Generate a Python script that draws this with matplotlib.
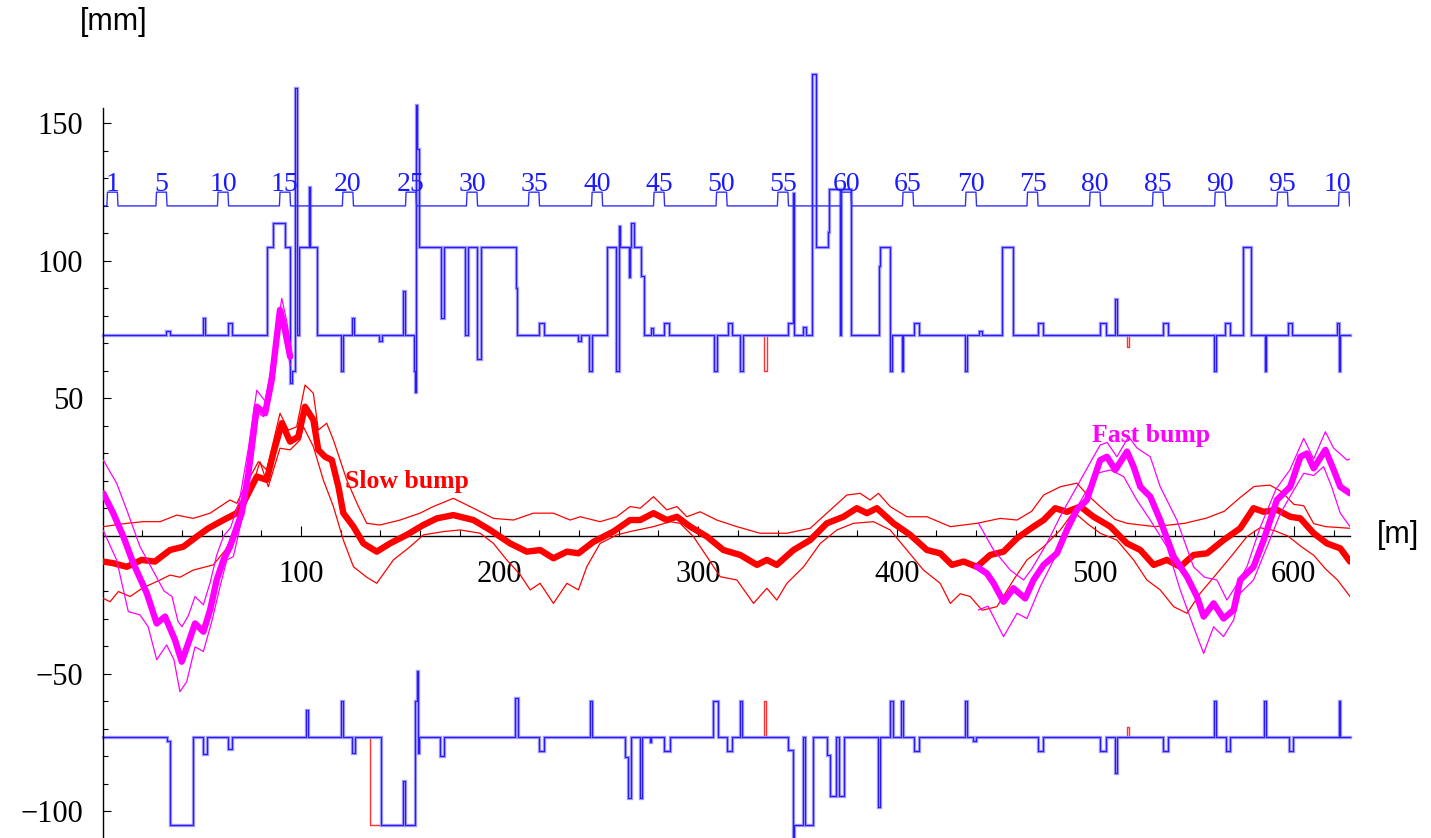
import matplotlib
matplotlib.use("Agg")
import matplotlib.pyplot as plt
from matplotlib.ticker import FixedLocator, MultipleLocator, FuncFormatter

# ---------------------------------------------------------------- data
circumference = 628.3          # [m]

# straight-section markers (cell number, position [m])
cell_ids = [1, 5, 10, 15, 20, 25, 30, 35, 40, 45, 50, 55, 60, 65, 70, 75, 80, 85, 90, 95, 100]
cell_s = [5.0, 29.7, 60.7, 91.9, 123.6, 155.4, 186.1, 217.3, 249.1, 280.3, 311.8,
          342.7, 374.5, 405.7, 437.4, 468.4, 499.9, 531.6, 562.9, 594.3, 625.3]
cell_level = 120.0
cell_mark = 125.0

# vacuum-chamber aperture: nominal half aperture and local changes (start, end, value) [m, m, mm]
aperture_nominal = 73.0
upper_aperture = [
    (31.8, 34.0, 74.5), (50.8, 51.8, 79.2), (63.1, 65.4, 77.3),
    (83.0, 85.7, 105.0), (85.7, 91.9, 113.7), (91.9, 94.6, 105.0), (94.6, 95.6, 55.6),
    (95.6, 96.8, 60.0), (96.8, 97.8, 162.8), (99.0, 104.0, 105.0), (104.0, 104.6, 126.7),
    (104.6, 108.2, 105.0), (120.0, 121.0, 60.0), (125.8, 126.9, 79.2), (139.5, 140.6, 71.0),
    (151.5, 152.5, 89.0), (157.0, 157.6, 60.0), (157.6, 158.0, 52.5), (158.0, 158.5, 156.7),
    (158.5, 159.2, 140.7), (159.2, 170.4, 105.0), (170.4, 172.0, 79.2), (172.0, 182.6, 105.0),
    (184.3, 188.5, 105.0), (188.5, 190.7, 64.4), (190.7, 208.2, 105.0), (208.2, 209.0, 90.0),
    (219.7, 222.6, 77.3), (239.7, 240.9, 71.0), (245.2, 246.6, 60.0), (254.0, 258.5, 105.0),
    (258.5, 260.2, 60.0), (260.2, 260.8, 112.8), (260.8, 265.0, 105.0), (265.0, 265.7, 94.3),
    (265.7, 266.1, 105.0), (266.1, 267.9, 113.7), (267.9, 271.1, 105.0), (271.1, 272.6, 94.5),
    (276.5, 277.5, 75.5), (283.0, 285.5, 77.3), (308.0, 309.4, 60.0), (314.8, 317.0, 77.3),
    (321.3, 322.7, 60.0), (345.5, 348.0, 77.3), (348.0, 348.3, 124.6), (353.0, 354.2, 76.0),
    (357.3, 359.3, 167.9), (359.3, 365.3, 105.0), (365.3, 366.0, 110.4), (366.0, 371.2, 126.0),
    (372.0, 377.0, 126.0), (390.9, 391.7, 98.0), (391.7, 396.7, 105.0), (396.7, 397.6, 60.0),
    (402.6, 403.4, 60.0), (408.5, 411.0, 77.3), (434.2, 435.4, 60.0), (441.5, 443.0, 74.5),
    (453.0, 458.8, 105.0), (471.0, 473.5, 77.3), (502.5, 505.2, 77.3), (510.1, 511.2, 86.0),
    (533.9, 536.6, 77.3), (559.6, 560.8, 60.0), (565.5, 568.0, 77.3), (574.2, 578.4, 105.0),
    (585.3, 585.8, 60.0), (596.9, 599.1, 77.3), (622.0, 622.7, 77.3), (622.7, 623.4, 60.0),
]
lower_aperture = [
    (32.3, 34.0, -74.5), (34.0, 45.4, -105.1), (50.8, 52.5, -79.3), (63.1, 65.4, -77.3),
    (102.4, 103.4, -63.3), (120.0, 121.0, -60.0), (125.7, 127.0, -79.0),
    (140.3, 151.5, -105.1), (151.5, 152.5, -89.0), (152.5, 157.4, -105.1),
    (157.4, 158.4, -60.0), (158.4, 158.9, -49.0), (158.9, 159.6, -79.0),
    (170.0, 172.2, -80.0), (208.0, 209.3, -58.8), (219.6, 222.6, -78.0),
    (245.3, 246.4, -60.0), (263.4, 264.9, -80.5), (264.9, 266.1, -95.1), (270.8, 271.9, -95.1),
    (275.5, 276.5, -75.0), (283.0, 285.9, -78.0), (307.7, 309.9, -60.0), (314.5, 317.0, -78.0),
    (321.2, 322.3, -60.0), (345.2, 348.0, -77.8), (348.0, 348.3, -112.0), (348.3, 353.0, -105.1),
    (353.9, 357.8, -105.1), (364.8, 366.2, -79.7), (366.2, 369.4, -94.5),
    (371.0, 373.3, -94.5), (390.5, 391.7, -98.5), (396.7, 397.9, -60.0), (402.3, 403.4, -60.0),
    (408.5, 411.3, -78.0), (434.2, 435.4, -60.0), (438.5, 440.0, -74.5), (471.0, 473.5, -78.0),
    (502.5, 505.4, -78.0), (510.0, 511.0, -86.3), (534.0, 536.4, -78.0), (559.6, 560.8, -60.0),
    (565.8, 567.7, -78.0), (585.2, 585.8, -60.0), (597.4, 599.4, -78.0), (622.6, 623.4, -60.0),
]
# second aperture model, differing only locally
upper_aperture_alt = [(333.4, 334.6, 60.0), (516.0, 516.8, 68.8)]
lower_aperture_alt = [(134.8, 140.3, -105.1), (333.4, 334.3, -60.0), (516.0, 516.8, -69.3)]

# slow extraction bump: closed orbit and beam envelope [m, mm]
slow_orbit = [
    (0.4, -9.3), (5.4, -9.9), (12.2, -11.2), (19.7, -8.7), (26.4, -9.3), (34.0, -5.1),
    (40.7, -3.9), (47.5, -0.2), (53.3, 2.8), (60.9, 5.8), (67.6, 8.3), (72.6, 14.3),
    (77.7, 21.6), (82.7, 20.4), (86.0, 30.0), (90.3, 41.0), (94.5, 34.3), (98.6, 36.1),
    (102.0, 47.0), (106.2, 42.2), (108.7, 31.3), (112.1, 28.8), (115.5, 27.6), (118.8, 17.9),
    (121.3, 8.3), (126.4, 3.4), (131.4, -2.7), (138.1, -5.7), (144.8, -2.7), (153.2, 0.4),
    (161.6, 4.0), (168.4, 6.4), (176.7, 7.6), (186.8, 5.8), (195.2, 2.2), (205.3, -2.7),
    (213.7, -5.7), (220.4, -5.1), (227.1, -8.1), (233.9, -5.7), (239.7, -6.3), (247.3, -2.1),
    (257.3, 1.6), (265.7, 5.8), (270.8, 5.8), (277.5, 8.3), (284.2, 5.8), (289.3, 7.0),
    (296.0, 3.4), (304.4, -0.2), (312.7, -5.1), (321.2, -6.9), (329.6, -10.5), (334.6, -8.7),
    (339.6, -10.5), (348.0, -5.1), (356.4, -1.5), (364.8, 4.6), (373.2, 7.0), (379.9, 10.1),
    (385.0, 8.3), (390.0, 10.1), (398.4, 4.6), (406.8, 0.4), (415.2, -5.1), (421.9, -6.3),
    (427.8, -10.5), (433.7, -9.3), (440.4, -11.2), (447.1, -6.9), (453.8, -5.7), (460.6, -0.8),
    (468.9, 3.4), (474.0, 5.8), (479.8, 10.1), (485.7, 8.8), (492.5, 10.7), (499.1, 7.0),
    (507.6, 3.4), (516.0, -2.7), (522.7, -5.1), (529.4, -10.5), (536.1, -8.7), (542.8, -11.2),
    (549.5, -6.9), (556.3, -6.3), (564.6, -1.5), (573.0, 2.8), (579.7, 10.1), (584.8, 8.8),
    (591.5, 9.5), (598.2, 7.0), (603.3, 6.4), (610.0, 1.0), (616.7, -2.7), (623.4, -4.5),
    (628.3, -9.3),
]
slow_upper = [
    (0.4, 3.4), (12.2, 4.6), (20.6, 5.2), (29.0, 5.2), (37.4, 7.6), (45.7, 6.4), (54.2, 8.3),
    (64.2, 13.1), (67.6, 11.9), (73.5, 20.4), (78.5, 27.0), (82.7, 24.0), (89.4, 44.6),
    (93.6, 38.5), (97.8, 39.7), (102.0, 54.9), (106.2, 51.9), (108.7, 38.5), (112.9, 41.0),
    (116.3, 34.9), (123.0, 20.4), (128.9, 10.7), (133.1, 4.6), (139.8, 4.0), (149.9, 5.8),
    (159.9, 8.3), (166.6, 10.7), (176.7, 13.7), (188.5, 9.5), (196.9, 6.4), (207.0, 5.8),
    (217.0, 8.3), (227.1, 8.3), (235.5, 5.8), (240.6, 7.0), (250.6, 5.2), (259.0, 7.0),
    (265.7, 10.7), (270.8, 10.1), (277.5, 14.3), (284.2, 9.5), (289.3, 10.7), (294.3, 7.0),
    (301.0, 8.8), (309.4, 5.8), (319.5, 3.4), (331.2, 1.0), (344.7, 1.0), (356.4, 2.8),
    (364.8, 8.3), (374.9, 14.9), (381.6, 15.5), (386.6, 13.1), (390.8, 15.5), (396.7, 10.7),
    (405.1, 7.0), (415.2, 7.0), (427.0, 3.4), (440.4, 4.6), (452.1, 6.4), (460.6, 5.8),
    (468.0, 9.0), (474.0, 14.9), (482.4, 17.9), (490.7, 19.2), (496.0, 15.0), (502.5, 10.7),
    (510.0, 6.0), (516.0, 4.6), (530.0, 3.4), (545.0, 4.6), (556.0, 6.5), (565.0, 9.0),
    (573.0, 14.0), (580.0, 18.0), (588.0, 18.5), (594.0, 16.0), (600.0, 11.5), (605.0, 11.0),
    (610.0, 4.5), (616.0, 3.4), (628.3, 2.8),
]
slow_lower = [
    (0.4, -22.7), (3.8, -23.9), (8.0, -20.2), (13.9, -22.0), (20.0, -19.0), (29.0, -16.0),
    (34.0, -14.2), (39.0, -15.0), (45.7, -12.4), (55.8, -10.5), (62.0, -5.0), (69.3, 5.8),
    (74.3, 15.5), (79.3, 27.0), (83.5, 17.9), (89.4, 31.9), (94.5, 31.3), (99.5, 34.9),
    (101.2, 39.7), (106.2, 32.5), (111.2, 20.4), (116.3, 10.7), (121.3, -1.5), (126.4, -11.2),
    (133.1, -15.0), (138.1, -17.2), (146.5, -8.7), (154.9, -3.9), (161.6, 0.4), (171.7, 1.6),
    (180.1, 2.2), (190.2, 1.0), (196.9, -2.7), (203.6, -8.7), (210.3, -14.0), (215.4, -19.6),
    (220.4, -17.2), (227.1, -24.5), (233.9, -17.2), (239.7, -19.6), (243.9, -11.2),
    (250.6, -2.7), (259.0, 0.4), (265.7, 1.6), (277.5, 3.4), (285.9, 5.2), (290.9, 4.6),
    (297.6, -0.2), (304.4, -7.5), (311.1, -14.8), (319.5, -16.0), (327.9, -24.5),
    (334.6, -19.0), (339.6, -23.3), (344.7, -17.2), (353.1, -11.2), (361.5, -2.7),
    (369.9, 2.2), (378.2, 4.6), (388.3, 5.2), (396.7, 2.2), (405.1, -5.1), (413.5, -12.4),
    (421.9, -17.2), (427.0, -24.5), (432.0, -21.0), (437.0, -22.0), (443.0, -27.0),
    (450.5, -25.7), (458.8, -16.0), (465.6, -8.7), (474.0, -3.9), (482.4, 2.2), (489.1, 8.8),
    (495.8, 4.6), (502.5, 1.0), (510.9, -1.5), (519.3, -8.7), (526.0, -16.0), (532.7, -19.6),
    (539.5, -25.7), (546.2, -28.1), (552.9, -20.8), (561.3, -13.6), (569.7, -6.3),
    (576.4, -0.2), (583.0, 3.0), (590.0, 2.0), (597.0, 0.0), (604.0, -4.0), (610.0, -7.0),
    (616.0, -12.0), (622.0, -16.0), (628.3, -22.0),
]

# fast extraction bump: two bump regions, orbit and envelope [m, mm]
fast_orbit_a = [
    (0.4, 15.5), (5.4, 8.3), (10.5, -0.2), (15.5, -9.9), (22.3, -20.8), (27.3, -31.8),
    (31.5, -29.3), (36.5, -37.8), (39.9, -45.7), (43.2, -39.0), (46.6, -31.8), (50.8, -34.8),
    (54.2, -26.9), (57.5, -16.0), (60.9, -8.7), (64.2, -3.9), (70.1, 8.3), (73.5, 22.8),
    (77.7, 47.0), (81.9, 44.6), (85.2, 56.7), (89.4, 82.2), (91.9, 74.9), (94.5, 65.2),
]
fast_upper_a = [
    (0.4, 27.6), (7.1, 19.2), (12.2, 9.5), (18.9, -3.9), (25.0, -12.0), (31.0, -20.0),
    (35.0, -22.0), (38.0, -31.0), (40.0, -33.0), (43.2, -29.0), (46.6, -22.0), (50.8, -25.0),
    (54.2, -17.0), (57.5, -7.0), (61.0, 0.0), (64.5, 3.0), (69.0, 13.0), (73.5, 32.0),
    (77.7, 53.0), (81.9, 49.0), (85.2, 62.0), (90.3, 86.4), (92.8, 78.0), (94.5, 70.0),
]
fast_lower_a = [
    (0.4, 2.0), (7.1, -8.7), (13.0, -27.5), (18.9, -28.7), (23.0, -33.0), (27.3, -45.0),
    (32.3, -39.6), (36.0, -45.0), (39.0, -56.6), (42.4, -53.0), (46.6, -40.3), (50.8, -42.0),
    (55.0, -31.2), (59.2, -18.4), (62.6, -8.7), (65.9, -7.5), (70.9, 8.3), (75.2, 26.4),
    (78.5, 44.6), (81.0, 43.4), (85.2, 53.1), (89.4, 79.8), (92.8, 68.8), (94.5, 62.0),
]
fast_orbit_b = [
    (440.4, -11.2), (445.4, -13.6), (448.8, -17.2), (453.8, -23.9), (458.8, -19.0),
    (464.7, -22.7), (468.9, -16.0), (474.0, -10.5), (480.7, -6.3), (485.7, 2.2), (490.7, 9.5),
    (495.8, 13.1), (499.1, 20.4), (502.5, 27.6), (505.9, 28.8), (510.1, 24.0), (516.0, 30.7),
    (519.3, 25.2), (522.7, 17.9), (527.7, 14.3), (532.7, 5.8), (539.5, -7.5), (546.2, -14.8),
    (551.2, -22.0), (554.6, -29.3), (559.6, -24.5), (564.6, -30.0), (569.7, -26.9),
    (573.0, -16.0), (579.7, -11.2), (584.8, -1.5), (591.5, 13.1), (598.2, 17.9), (603.3, 28.8),
    (606.6, 30.0), (610.0, 24.6), (615.9, 31.3), (620.1, 24.0), (623.4, 17.9), (628.3, 15.5),
]
fast_upper_b = [
    (441.2, 4.6), (448.8, -5.1), (457.2, -12.4), (463.9, -16.0), (468.0, -12.0),
    (475.6, -2.7), (483.0, 8.0), (490.7, 17.9), (499.1, 28.8), (502.5, 33.1), (506.0, 34.0),
    (510.9, 28.8), (516.8, 36.1), (521.0, 32.0), (527.7, 28.8), (532.7, 17.9), (541.1, 5.8),
    (549.5, -11.2), (555.0, -15.0), (561.3, -16.0), (566.3, -23.3), (571.0, -18.0),
    (576.4, -11.2), (583.0, 3.0), (591.0, 17.0), (598.0, 24.0), (605.0, 35.5), (610.0, 28.0),
    (615.9, 37.9), (620.0, 32.0), (626.8, 27.6), (628.3, 28.0),
]
fast_lower_b = [
    (441.2, -26.9), (446.0, -25.5), (453.8, -36.6), (460.6, -28.1), (465.6, -30.0),
    (472.3, -18.4), (477.3, -11.2), (483.0, -3.0), (489.1, 8.3), (495.8, 16.7), (500.8, 22.8),
    (507.6, 24.0), (514.3, 21.6), (521.0, 13.0), (527.7, 5.8), (536.1, -3.9), (542.8, -19.6),
    (549.5, -33.0), (554.6, -42.7), (559.6, -33.0), (564.6, -36.6), (569.7, -30.5),
    (573.0, -20.8), (579.7, -16.0), (586.5, -3.9), (593.3, 8.3), (600.0, 16.7), (605.0, 22.8),
    (610.0, 22.0), (615.0, 25.2), (619.0, 18.0), (623.4, 8.3), (628.3, 3.4),
]

y_ticks = [-100, -50, 50, 100, 150]
x_ticks = [100, 200, 300, 400, 500, 600]

# ---------------------------------------------------------------- helpers
def step_profile(base, steps, s_end):
    """Polyline for a piecewise-constant profile around a nominal level."""
    xs, ys = [0.0], [base]
    prev_end = None
    for s0, s1, v in sorted(steps):
        if prev_end is not None and abs(s0 - prev_end) < 1e-9:
            xs += [s0, s1]
            ys += [v, v]
        else:
            if prev_end is not None:
                xs.append(prev_end)
                ys.append(base)
            xs += [s0, s0, s1]
            ys += [base, v, v]
        prev_end = s1
    xs += [prev_end, s_end]
    ys += [base, base]
    return xs, ys


def merged(base_steps, extra):
    """Profile of the alternative aperture: nominal steps with local overrides."""
    out = [st for st in base_steps
           if not any(st[0] < e1 and st[1] > e0 for e0, e1, _ in extra)]
    return out + list(extra)


def xy(points):
    s, v = zip(*points)
    return list(s), list(v)


# ---------------------------------------------------------------- figure
W, H = 1431, 838
fig = plt.figure(figsize=(W / 100, H / 100), dpi=100)
ax = fig.add_axes([102.5 / W, 0.0, (1350 - 102.5) / W, (H - 108) / H])
ax.set_xlim(0, circumference)
ax.set_ylim(-109.8, 155.6)

serif = "Liberation Serif"
sans = "Liberation Sans"
BLUE = "#2a1aff"
BLUE_LIGHT = "#8c8cff"
RED = "#ff0000"
MAGENTA = "#ff00ff"

# cell marker line with the labelled straight sections
half = 2.5
cx, cy = [0.0], [cell_level]
for s in cell_s:
    cx += [s - half - 0.3, s - half, s + half, s + half + 0.3]
    cy += [cell_level, cell_mark, cell_mark, cell_level]
cx.append(circumference)
cy.append(cell_level)
ax.plot(cx, cy, color="#3030ff", lw=1.0, zorder=3)
for n, s in zip(cell_ids, cell_s):
    ax.text(s, 125.6, str(n), ha="center", va="baseline", fontsize=20,
            family=serif, color="#1a1aff", clip_on=True, zorder=4)

# apertures: alternative model underneath, main model as light band + thin line
for base, steps, alt in [(aperture_nominal, upper_aperture, upper_aperture_alt),
                         (-aperture_nominal, lower_aperture, lower_aperture_alt)]:
    ax.plot(*step_profile(base, merged(steps, alt), circumference),
            color=RED, lw=1.0, alpha=0.8, zorder=2, clip_on=False)
    px, py = step_profile(base, steps, circumference)
    ax.plot(px, py, color=BLUE_LIGHT, lw=2.4, alpha=0.85, zorder=2.5,
            solid_joinstyle="miter", clip_on=False)
    ax.plot(px, py, color=BLUE, lw=0.8, zorder=2.6, clip_on=False)

# slow bump
for pts in (slow_upper, slow_lower):
    ax.plot(*xy(pts), color=RED, lw=0.9, zorder=5)
ax.plot(*xy(slow_orbit), color=RED, lw=4.6, zorder=6,
        solid_capstyle="round", solid_joinstyle="round")

# fast bump
for pts in (fast_upper_a, fast_lower_a, fast_upper_b, fast_lower_b):
    ax.plot(*xy(pts), color=MAGENTA, lw=0.9, zorder=7)
for pts in (fast_orbit_a, fast_orbit_b):
    ax.plot(*xy(pts), color=MAGENTA, lw=4.6, zorder=8,
            solid_capstyle="round", solid_joinstyle="round")

ax.text(122.2, 17.5, "Slow bump", color=RED, fontsize=18.5, family=serif,
        fontweight="bold", ha="left", va="baseline", zorder=9)
ax.text(498.3, 34.3, "Fast bump", color=MAGENTA, fontsize=18.5, family=serif,
        fontweight="bold", ha="left", va="baseline", zorder=9)

# axes through the origin
for side in ("top", "right"):
    ax.spines[side].set_visible(False)
ax.spines["left"].set_position(("data", 0))
ax.spines["bottom"].set_position(("data", 0))
for side in ("left", "bottom"):
    ax.spines[side].set_linewidth(1.0)
    ax.spines[side].set_zorder(4)

fmt = FuncFormatter(lambda v, _: f"{int(round(v))}".replace("-", "\u2212"))
ax.xaxis.set_major_locator(FixedLocator(x_ticks))
ax.xaxis.set_minor_locator(MultipleLocator(20))
ax.yaxis.set_major_locator(FixedLocator(y_ticks))
ax.yaxis.set_minor_locator(MultipleLocator(10))
ax.xaxis.set_major_formatter(fmt)
ax.yaxis.set_major_formatter(fmt)
ax.tick_params(axis="x", which="major", direction="in", length=7, width=0.8, pad=17,
               labelsize=22)
ax.tick_params(axis="x", which="minor", direction="in", length=4, width=0.8)
ax.tick_params(axis="y", which="major", direction="in", length=6, width=0.8, pad=14,
               labelsize=22)
ax.tick_params(axis="y", which="minor", direction="in", length=3.5, width=0.8)
for lab in ax.get_xticklabels() + ax.get_yticklabels():
    lab.set_family(serif)

fig.text(80 / W, 1 - 22 / H, "[mm]", family=sans, fontsize=22, ha="left", va="center")
fig.text(1377 / W, 1 - 535 / H, "[m]", family=sans, fontsize=22, ha="left", va="center")

fig.savefig("out.png", dpi=100)
